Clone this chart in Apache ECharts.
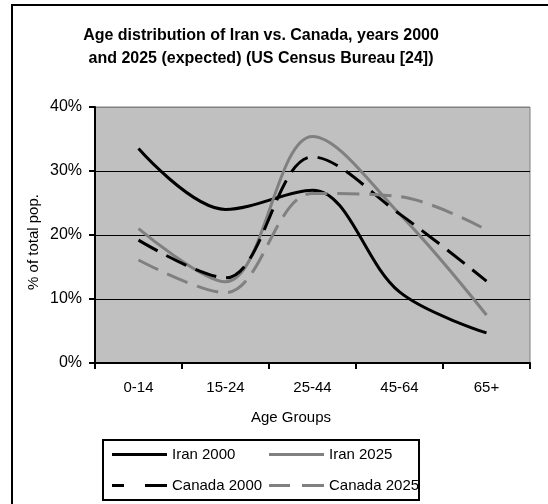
<!DOCTYPE html>
<html>
<head>
<meta charset="utf-8">
<script src="https://cdn.jsdelivr.net/npm/echarts@6/dist/echarts.min.js"></script>
<style>
  html, body { margin: 0; padding: 0; background: #fff; }
  #chart { width: 548px; height: 504px; }
</style>
</head>
<body>
<div id="chart"></div>
<script>
// age groups on the x axis
var ageGroups = ["0-14", "15-24", "25-44", "45-64", "65+"];
// % of total population
var iran2000 = [33.5, 24.0, 27.0, 11.1, 4.7];
var iran2025 = [21.0, 12.7, 35.4, 23.3, 7.5];
var canada2000 = [19.2, 13.3, 32.2, 23.3, 12.8];
var canada2025 = [16.1, 11.0, 26.5, 26.0, 20.8];
var yTicks = [0, 10, 20, 30, 40];

var font = "Liberation Sans, Arial, sans-serif";
var chart = echarts.init(document.getElementById("chart"));

// legend samples: solid bar, and long-dash bars as in the original
var iconSolid = "path://M0,0H55V3H0Z";
var iconDashBlack = "path://M0,0H12V3H0Z M33,0H55V3H33Z";
var iconDashGray = "path://M0,0H21V3H0Z M33,0H55V3H33Z";

function lineSeries(name, data, color, dashed) {
  return {
    name: name,
    type: "line",
    data: data,
    smooth: 0.35,
    symbol: "none",
    lineStyle: {
      color: color,
      width: 3,
      type: dashed ? [22, 10] : "solid"
    },
    itemStyle: { color: color }
  };
}

var legendBase = {
  orient: "vertical",
  top: 441,
  itemWidth: 55,
  itemHeight: 3,
  itemGap: 14,
  selectedMode: false,
  textStyle: { fontFamily: font, fontSize: 15, color: "#000", height: 17, lineHeight: 17 }
};

var option = {
  animation: false,
  backgroundColor: "#fff",
  title: {
    text: "Age distribution of Iran vs. Canada, years 2000\nand 2025 (expected) (US Census Bureau [24])",
    left: 256,
    textAlign: "center",
    top: 19,
    textStyle: {
      fontFamily: font,
      fontSize: 16,
      fontWeight: "bold",
      color: "#000",
      lineHeight: 23
    }
  },
  grid: {
    left: 95,
    right: 18,
    top: 107,
    bottom: 141,
    show: true,
    backgroundColor: "#c0c0c0",
    borderColor: "#808080",
    borderWidth: 1
  },
  legend: [
    Object.assign({}, legendBase, {
      left: 107,
      data: [
        { name: "Iran 2000", icon: iconSolid },
        { name: "Canada 2000", icon: iconDashBlack }
      ]
    }),
    Object.assign({}, legendBase, {
      left: 264,
      data: [
        { name: "Iran 2025", icon: iconSolid },
        { name: "Canada 2025", icon: iconDashGray }
      ]
    })
  ],
  xAxis: {
    type: "category",
    data: ageGroups,
    boundaryGap: true,
    axisLine: { lineStyle: { color: "#000", width: 2 } },
    axisTick: { show: true, length: 6, lineStyle: { color: "#000", width: 2 } },
    axisLabel: { margin: 17, fontFamily: font, fontSize: 15, color: "#000" },
    splitLine: { show: false }
  },
  yAxis: {
    type: "value",
    min: yTicks[0],
    max: yTicks[yTicks.length - 1],
    interval: 10,
    axisLine: { show: true, lineStyle: { color: "#000", width: 2 } },
    axisTick: { show: true, length: 6, lineStyle: { color: "#000", width: 2 } },
    axisLabel: {
      margin: 13,
      fontFamily: font,
      fontSize: 16,
      color: "#000",
      formatter: function (v) { return v + "%"; }
    },
    splitLine: {
      show: true,
      lineStyle: { color: ["#000", "#000", "#000", "#000", "#808080"], width: 1 }
    }
  },
  series: [
    lineSeries("Iran 2000", iran2000, "#000", false),
    lineSeries("Iran 2025", iran2025, "#808080", false),
    lineSeries("Canada 2000", canada2000, "#000", true),
    lineSeries("Canada 2025", canada2025, "#808080", true)
  ],
  graphic: [
    // outer chart border (runs off the right and bottom edges)
    {
      type: "rect",
      shape: { x: 12, y: 5, width: 560, height: 520 },
      style: { fill: "none", stroke: "#000", lineWidth: 2 },
      silent: true,
      z: 0
    },
    // legend box
    {
      type: "rect",
      shape: { x: 103, y: 440, width: 316, height: 60 },
      style: { fill: "none", stroke: "#000", lineWidth: 2 },
      silent: true
    },
    {
      type: "text",
      x: 291,
      y: 418,
      style: {
        text: "Age Groups",
        font: "15px " + font,
        fill: "#000",
        textAlign: "center",
        textVerticalAlign: "middle"
      }
    },
    {
      type: "text",
      x: 34,
      y: 242,
      rotation: Math.PI / 2,
      style: {
        text: "% of total pop.",
        font: "15px " + font,
        fill: "#000",
        textAlign: "center",
        textVerticalAlign: "middle"
      }
    }
  ]
};

chart.setOption(option);
window.onresize = function () {
  chart.resize();
};
</script>
</body>
</html>
